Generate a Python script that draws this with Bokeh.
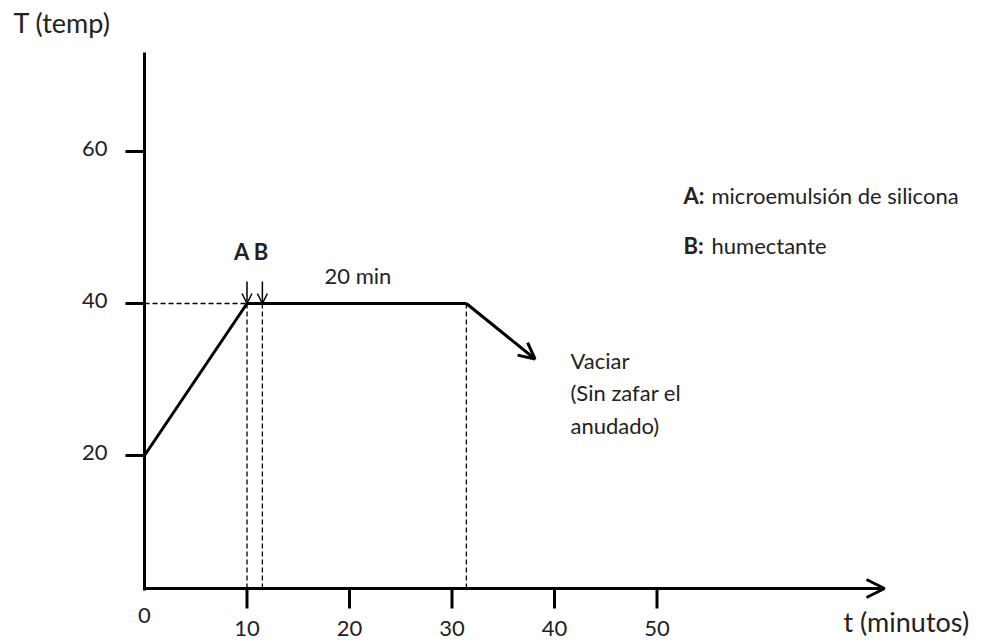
from bokeh.plotting import figure
from bokeh.models import Range1d, Arrow, OpenHead
from bokeh.core.properties import value
from bokeh.embed import file_html
from bokeh.resources import INLINE

# ---------------- data ----------------
profile_t = [0, 10, 31.4]          # minutes
profile_T = [20, 40, 40]           # temperature
drain_end_t = 38.1
drain_end_T = 32.7
addition_t = [10, 11.5]
addition_labels = ["A", "B"]
x_ticks = [0, 10, 20, 30, 40, 50]
x_tick_labels = ["0", "10", "20", "30", "40", "50"]
y_ticks = [20, 40, 60]
y_tick_labels = ["20", "40", "60"]
plateau_label = "20 min"
legend_keys = ["A:", "B:"]
legend_texts = ["microemulsión de silicona", "humectante"]
drain_lines = ["Vaciar", "(Sin zafar el", "anudado)"]
x_title = "t (minutos)"
y_title = "T (temp)"

# ---------------- layout / scale ----------------
W, H = 975, 644
X0_PAGE, XS = 144.0, 10.25     # px of t=0, px per minute
Y20_PAGE, YS = 455.0, 7.6      # px of T=20, px per degree


def px(page_x):
    return (page_x - X0_PAGE) / XS


def py(page_y):
    return 20 + (Y20_PAGE - page_y) / YS


FONT = "Lato"
FS = "22px"
TFS = "27px"
TXT = "#222222"
black = "#000000"

p = figure(width=W, height=H, output_backend="svg", toolbar_location=None,
           x_axis_type=None, y_axis_type=None, min_border=0,
           x_range=Range1d(px(0), px(W)), y_range=Range1d(py(H), py(0)))
p.outline_line_color = None
p.grid.visible = False
p.background_fill_color = "white"
p.border_fill_color = "white"

AX_T = py(588)        # level of the time axis

# axes
p.segment(x0=[0], y0=[py(590)], x1=[0], y1=[py(52)], line_width=3, line_color=black)
p.add_layout(Arrow(end=OpenHead(size=18, line_width=3, line_color=black),
                   x_start=-0.1, y_start=AX_T, x_end=px(884), y_end=AX_T,
                   line_width=3, line_color=black))

# ticks
p.segment(x0=x_ticks[1:], y0=AX_T, x1=x_ticks[1:], y1=AX_T - 20 / YS,
          line_width=3, line_color=black)
p.segment(x0=-19 / XS, y0=y_ticks, x1=0, y1=y_ticks, line_width=3, line_color=black)

# tick labels
p.text(x=x_ticks[:1], y=[py(615)], text=x_tick_labels[:1], text_align="center",
       text_baseline="middle", text_font=value(FONT), text_font_size=FS, text_color=TXT)
p.text(x=x_ticks[1:], y=[py(628)] * 5, text=x_tick_labels[1:], text_align="center",
       text_baseline="middle", text_font=value(FONT), text_font_size=FS, text_color=TXT)
p.text(x=[px(107)] * 3, y=[t + 3 / YS for t in y_ticks], text=y_tick_labels,
       text_align="right", text_baseline="middle", text_font=value(FONT),
       text_font_size=FS, text_color=TXT)

# axis titles
p.text(x=[px(13)], y=[py(22)], text=[y_title], text_align="left", text_baseline="middle",
       text_font=value(FONT), text_font_size=TFS, text_color=TXT)
p.text(x=[px(843)], y=[py(621)], text=[x_title], text_align="left", text_baseline="middle",
       text_font=value(FONT), text_font_size=TFS, text_color=TXT)

# dashed guides
p.line(x=[0, profile_t[1]], y=[profile_T[1], profile_T[1]], line_dash="5 3",
       line_width=1.3, line_color=black)
guide_t = [addition_t[0], addition_t[1], profile_t[2]]
p.segment(x0=guide_t, y0=profile_T[1], x1=guide_t, y1=AX_T, line_dash="5 3",
          line_width=1.3, line_color=black)

# temperature profile
p.line(x=profile_t, y=profile_T, line_width=3, line_color=black)
p.add_layout(Arrow(end=OpenHead(size=16, line_width=3, line_color=black),
                   x_start=profile_t[2], y_start=profile_T[2],
                   x_end=drain_end_t, y_end=drain_end_T,
                   line_width=3, line_color=black))

# addition arrows A, B
for t in addition_t:
    p.add_layout(Arrow(end=OpenHead(size=10, line_width=1.5, line_color=black),
                       x_start=t, y_start=py(281), x_end=t, y_end=profile_T[1],
                       line_width=1.5, line_color=black))
p.text(x=[px(251)], y=[py(251)], text=[" ".join(addition_labels)], text_align="center",
       text_baseline="middle", text_font=value(FONT), text_font_size=FS,
       text_font_style="bold", text_color=TXT)

# plateau duration
p.text(x=[px(324)], y=[py(275)], text=[plateau_label], text_align="left",
       text_baseline="middle", text_font=value(FONT), text_font_size=FS, text_color=TXT)

# drain note
p.text(x=[px(570)] * 3, y=[py(360), py(392), py(425)], text=drain_lines, text_align="left",
       text_baseline="middle", text_font=value(FONT), text_font_size=FS, text_color=TXT)

# legend notes
p.text(x=[px(683)] * 2, y=[py(195), py(245)], text=legend_keys, text_align="left",
       text_baseline="middle", text_font=value(FONT), text_font_size=FS,
       text_font_style="bold", text_color=TXT)
p.text(x=[px(711)] * 2, y=[py(195), py(245)], text=legend_texts, text_align="left",
       text_baseline="middle", text_font=value(FONT), text_font_size=FS, text_color=TXT)

open("out.html", "w").write(file_html(p, INLINE))
